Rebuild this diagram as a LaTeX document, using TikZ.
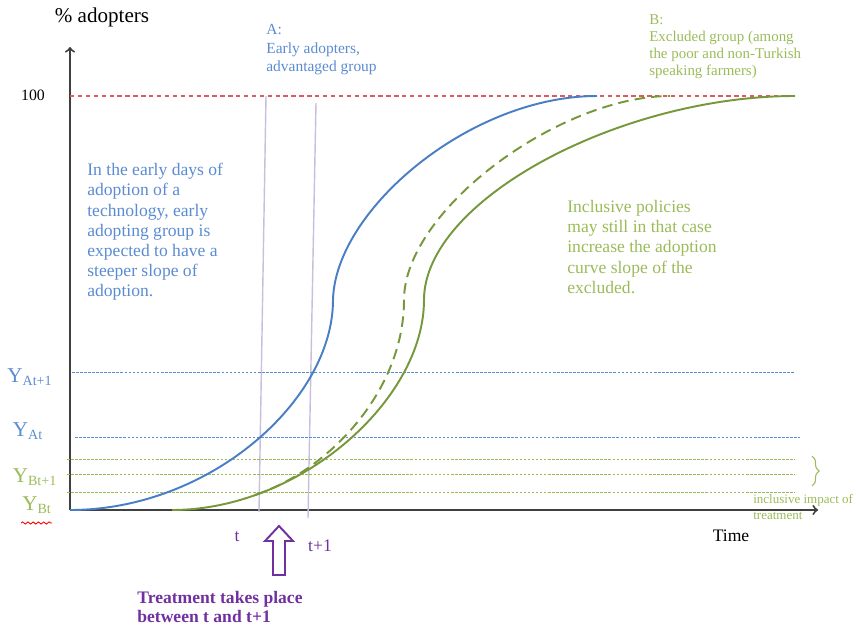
\documentclass[tikz,border=0pt]{standalone}
\usepackage{fontspec}
\setmainfont{Liberation Serif}
\usetikzlibrary{decorations.pathreplacing,decorations.pathmorphing}
\definecolor{adoptblue}{HTML}{4A7EC4}
\definecolor{adopttxt}{HTML}{5B8BD2}
\definecolor{exclgreen}{HTML}{76973A}
\definecolor{excltxt}{HTML}{9BBB59}
\definecolor{treatpurple}{HTML}{7030A0}
\definecolor{periodline}{HTML}{C9BEDD}
\definecolor{fullred}{HTML}{E05A5A}
\definecolor{axisgray}{HTML}{404040}

\begin{document}
\begin{tikzpicture}[x=0.02cm,y=-0.02cm,
    axis/.style={axisgray,line width=1.1pt},
    curveA/.style={adoptblue,line width=1.1pt},
    curveB/.style={exclgreen,line width=1.1pt},
    levelA/.style={adopttxt,line width=0.5pt,dash pattern=on 1.5pt off 0.8pt},
    levelB/.style={excltxt,line width=0.5pt,dash pattern=on 1.5pt off 0.8pt},
    period/.style={periodline,line width=0.8pt},
    ylab/.style={inner sep=0pt,font=\fontsize{12}{14}\selectfont},
    note/.style={inner sep=0pt,anchor=north west,align=left}]
  \useasboundingbox (0,0) rectangle (856,629);
  % axes
  \coordinate (O) at (70,510);
  \coordinate (ytop) at (70,47);
  \coordinate (xend) at (818,510);
  \draw[axis,->] (O) -- (ytop);
  \draw[axis,->] (O) -- (xend);
  \node[inner sep=0pt,font=\fontsize{12}{14}\selectfont] (ylabel) at (102,17) {\% adopters};
  \node[inner sep=0pt,font=\fontsize{10}{12}\selectfont] (xlabel) at (731,536) {Time};
  \node[inner sep=0pt,font=\fontsize{9}{11}\selectfont] (full) at (33,95) {100};

  % saturation level and t, t+1
  \draw[fullred,line width=0.6pt,dash pattern=on 2.5pt off 2pt] (70,96) -- (795,96);
  \draw[period] (266,96) -- (259,512);
  \draw[period] (316,103) -- (308,518);

  % levels at t and t+1
  \draw[levelA] (72,372) -- (795,372);
  \draw[levelA] (75,437) -- (800,437);
  \draw[levelB] (67,459) -- (795,459);
  \draw[levelB] (67,474) -- (795,474);
  \draw[levelB] (67,492) -- (795,492);
  \node[ylab,text=adopttxt] (yat1) at (30,377) {Y\textsubscript{At+1}};
  \node[ylab,text=adopttxt] (yat) at (28,431) {Y\textsubscript{At}};
  \node[ylab,text=excltxt] (ybt1) at (35,477) {Y\textsubscript{Bt+1}};
  \node[ylab,text=excltxt] (ybt) at (37,505) {Y\textsubscript{Bt}};
  \draw[red,line width=0.5pt,decorate,decoration={snake,amplitude=0.6pt,segment length=3pt}]
    (21,523) -- (52,523);

  % adoption curves
  \draw[curveA] (O) .. controls (210,510) and (333,400) .. (333,300)
    .. controls (335,210) and (470,96) .. (597,96);
  \draw[curveB,dash pattern=on 6pt off 3.5pt] (255,495) .. controls (330,470) and (404,390) .. (404,300)
    .. controls (404,210) and (560,96) .. (670,96);
  \draw[curveB] (172,510) .. controls (300,510) and (424,400) .. (424,300)
    .. controls (424,200) and (620,96) .. (795,96);

  % impact brace
  \draw[excltxt,line width=0.6pt,decorate,decoration={brace,amplitude=4pt}] (812,456) -- (812,486);
  \node[note,text=excltxt,font=\fontsize{7.4}{9}\selectfont] (impact) at (753,494)
    {inclusive impact of\\treatment};

  % group labels
  \node[note,text=adopttxt,font=\fontsize{8.8}{10.5}\selectfont] (groupA) at (266,24)
    {A:\\Early adopters,\\advantaged group};
  \node[note,text=excltxt,font=\fontsize{8.5}{9.8}\selectfont] (groupB) at (649,14)
    {B:\\Excluded group (among\\the poor and non-Turkish\\speaking farmers)};
  \node[note,text=adopttxt,font=\fontsize{10}{11.5}\selectfont] (textA) at (87,163)
    {In the early days of\\adoption of a\\technology, early\\adopting group is\\expected to have a\\steeper slope of\\adoption.};
  \node[note,text=excltxt,font=\fontsize{10}{11.5}\selectfont] (textB) at (567,200)
    {Inclusive policies\\may still in that case\\increase the adoption\\curve slope of the\\excluded.};

  % treatment
  \node[inner sep=0pt,text=treatpurple,font=\fontsize{10}{12}\selectfont] (tlab) at (237,537) {t};
  \node[inner sep=0pt,text=treatpurple,font=\fontsize{10}{12}\selectfont] (t1lab) at (320,546) {t+1};
  \draw[treatpurple,line width=1.1pt] (273,575) -- (285,575) -- (285,541) -- (293,541)
    -- (279,526) -- (265,541) -- (273,541) -- cycle;
  \node[note,text=treatpurple,font=\bfseries\fontsize{10}{10.8}\selectfont] (treat) at (137,591)
    {Treatment takes place\\between t and t+1};
\end{tikzpicture}
\end{document}
